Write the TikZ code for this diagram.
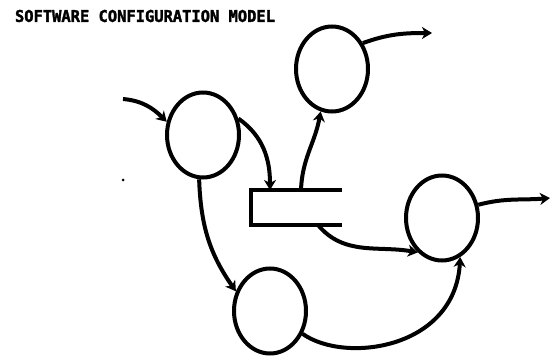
\documentclass[tikz,border=0pt]{standalone}
\usepackage{fontspec}
\newfontfamily\titlefont[BoldFeatures={FakeBold=2}]{DejaVu Sans Mono}
\usepackage{tikz}
\usetikzlibrary{arrows.meta,shapes.geometric,positioning,calc}
\tikzset{
    process/.style={ellipse, draw, line width=4pt, minimum width=72pt, minimum height=85pt, inner sep=0pt},
    store/.style={rectangle, minimum width=87pt, minimum height=31pt, inner sep=0pt},
    flow/.style={draw, line width=4pt, -{Stealth[length=10pt,width=12pt,inset=3pt]}},
}

\begin{document}
\begin{tikzpicture}[x=1pt, y=1pt, line width=4pt]
        \useasboundingbox (0,0) rectangle (551,359);

        \node[anchor=west, inner sep=0pt] (title) at (13,343)
            {\resizebox{260pt}{12pt}{\titlefont\bfseries SOFTWARE CONFIGURATION MODEL}};

        % the four bubbles
        \foreach \name/\pos in {p1/{203,224}, p2/{332,290}, p3/{442,141}, p4/{270,48}}
            \node[process] (\name) at (\pos) {};

        % data store, open at the right
        \node[store] (ds) at (296.5,151.5) {};
        \draw (ds.north east) -| (ds.south west) -- (ds.south east);

        \coordinate (in1) at (123,260);
        \coordinate (out1) at (432,326);
        \coordinate (out2) at (550,161);
        \coordinate (ds1) at ([xshift=19pt]ds.north west);
        \coordinate (ds2) at ([xshift=50pt]ds.north west);
        \coordinate (ds3) at ([xshift=67pt]ds.south west);

        \draw[flow] (in1) to[out=-5, in=135] (p1.160);
        \draw[flow] (p1.25) to[out=-35, in=90] (ds1);
        \draw[flow] (ds2) to[out=88, in=-100] (p2.255);
        \draw[flow] (p2.40) to[out=20, in=180] (out1);
        \draw[flow] (ds3) to[out=-50, in=170] (p3.235);
        \draw[flow] (p3.20) to[out=15, in=185] (out2);
        \draw[flow] (p1.265) to[out=-88, in=125] (p4.150);
        \draw[flow] (p4.-35) .. controls (345,-5) and (455,10) .. (p3.-65);

        % stray dot
        \fill (123,179) circle (1.5pt);
    \end{tikzpicture}
\end{document}
